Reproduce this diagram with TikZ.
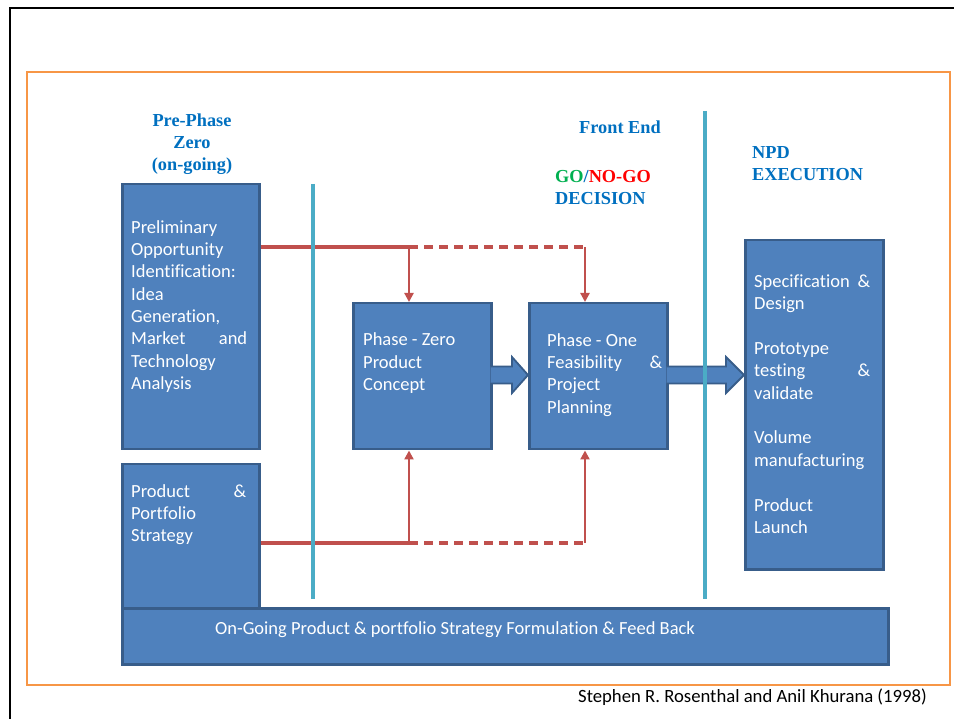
\documentclass[tikz,border=0pt]{standalone}
\usepackage{fontspec}
\setmainfont{Carlito}[Ligatures=NoCommon]
\newfontfamily\headfont{Liberation Serif}
\usetikzlibrary{arrows.meta,calc}
\definecolor{boxfill}{HTML}{4F81BD}
\definecolor{boxline}{HTML}{385D8A}
\definecolor{redln}{HTML}{C0504D}
\definecolor{tealln}{HTML}{4BACC6}
\definecolor{headblue}{HTML}{0070C0}
\definecolor{gogreen}{HTML}{00B050}
\definecolor{nogored}{HTML}{FF0000}
\definecolor{orangeln}{HTML}{F79646}
\newcommand\myjust[3]{\hbox to #1{#2\hfill #3}}
\begin{document}
\begin{tikzpicture}[x=1pt,y=-1pt,
  blockbox/.style={draw=boxline, fill=boxfill, line width=2.5pt, inner sep=0pt, anchor=north west},
  boxtext/.style={anchor=base west, inner sep=0pt, text=white, align=left,
    font=\fontsize{18.5}{22.4}\selectfont},
  headtext/.style={inner sep=0pt, text=headblue, font=\headfont\bfseries\fontsize{18.3}{22}\selectfont},
  redline/.style={draw=redln, line width=3.5pt},
  reddash/.style={draw=redln, line width=3.5pt, dash pattern=on 9pt off 6pt},
  redarrow/.style={draw=redln, line width=2.5pt, -{Triangle[length=9pt,width=9pt]}},
  divider/.style={draw=tealln, line width=3.2pt},
  bigarrow/.style={draw=boxline, fill=boxfill, line width=1.8pt, line join=miter}
]
\useasboundingbox (0,0) rectangle (954,719);
\fill[white] (0,0) rectangle (954,719);
% slide frame
\draw[black, line width=2.6pt] (10,719) -- (10,8) -- (954,8);
% orange frame
\draw[orangeln, line width=2.2pt] (27,72) rectangle (950,685);

% boxes
\node[blockbox, minimum width=137pt, minimum height=265pt] (b1) at (121,183) {};
\node[blockbox, minimum width=137pt, minimum height=144pt] (b2) at (121,463) {};
\node[blockbox, minimum width=138pt, minimum height=146pt] (p0) at (352,302) {};
\node[blockbox, minimum width=138pt, minimum height=146pt] (p1) at (528,302) {};
\node[blockbox, minimum width=138pt, minimum height=329pt] (npd) at (744,239) {};
\node[blockbox, minimum width=766pt, minimum height=56pt] (bar) at (121,607) {};

% block arrows
\coordinate (a0t) at (p0.east |- 0,375);
\coordinate (a0h) at (p1.west |- 0,375);
\draw[bigarrow] ($(a0t)+(-2,-8.5)$) -- ($(a0h)+(-16,-8.5)$) -- ($(a0h)+(-16,-18)$) -- (a0h)
  -- ($(a0h)+(-16,18)$) -- ($(a0h)+(-16,8.5)$) -- ($(a0t)+(-2,8.5)$);
\coordinate (a1t) at (p1.east |- 0,375);
\coordinate (a1h) at (npd.west |- 0,375);
\draw[bigarrow] ($(a1t)+(-2,-8.5)$) -- ($(a1h)+(-18,-8.5)$) -- ($(a1h)+(-18,-18)$) -- (a1h)
  -- ($(a1h)+(-18,18)$) -- ($(a1h)+(-18,8.5)$) -- ($(a1t)+(-2,8.5)$);

% red connectors
\coordinate (j1) at (409,247);
\coordinate (j2) at (585,247);
\coordinate (j3) at (409,543);
\coordinate (j4) at (585,543);
\draw[redline] (b1.east |- j1) -- (j1);
\draw[reddash] (j1) -- (j2);
\draw[redline] (b2.east |- j3) -- (j3);
\draw[reddash] (j3) -- (j4);
\draw[redarrow] (j1) -- (j1 |- p0.north);
\draw[redarrow] (j2) -- (j2 |- p1.north);
\draw[redarrow] (j3) -- (j3 |- p0.south);
\draw[redarrow] (j4) -- (j4 |- p1.south);

% dividers
\coordinate (d1t) at (313,184);
\coordinate (d1b) at (313,599);
\coordinate (d2t) at (705,111);
\coordinate (d2b) at (705,599);
\draw[divider] (d1t) -- (d1b);
\draw[divider] (d2t) -- (d2b);

% box texts (anchored at the baseline of the last line)
\node[boxtext] (t1) at (131,389.8) {Preliminary\\Opportunity\\Identification:\\Idea\\Generation,\\\myjust{116pt}{Market}{and}\\Technology\\Analysis};
\node[boxtext] (t2) at (131,541.8) {\myjust{115pt}{Product}{\&}\\Portfolio\\Strategy};
\node[boxtext] (t3) at (363,390.8) {Phase - Zero\\Product\\Concept};
\node[boxtext] (t4) at (547,413.2) {Phase - One\\\myjust{115pt}{Feasibility}{\&}\\Project\\Planning};
\node[boxtext] (t5) at (754,533.4) {\myjust{116pt}{Specification}{\&}\\Design\\[22.4pt]Prototype\\\myjust{116pt}{testing}{\&}\\validate\\[22.4pt]Volume\\manufacturing\\[22.4pt]Product\\Launch};
\node[boxtext] (t6) at (215,634) {On-Going Product \& portfolio Strategy Formulation \& Feed Back};

% headings
\node[headtext, anchor=base, align=center] (h1) at (192,170.5) {Pre-Phase\\Zero\\(on-going)};
\node[headtext, anchor=base] (h2) at (620,134) {Front End};
\node[headtext, anchor=base west, align=left] (h3) at (555,205) {\textcolor{gogreen}{GO}/\textcolor{nogored}{NO-GO}\\DECISION};
\node[headtext, anchor=base west, align=left] (h4) at (752,180.5) {NPD\\EXECUTION};

% citation
\node[anchor=base west, inner sep=0pt, font=\fontsize{18.7}{22}\selectfont] (cite) at (578,702) {Stephen R. Rosenthal and Anil Khurana (1998)};
\end{tikzpicture}
\end{document}
